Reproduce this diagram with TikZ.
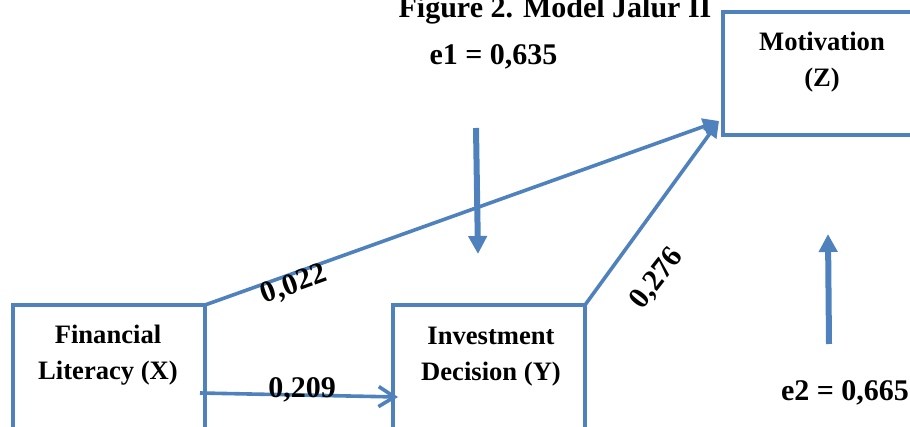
\documentclass[tikz,border=0pt]{standalone}
\usepackage{fontspec}
\setmainfont{Liberation Serif}
\usetikzlibrary{arrows.meta,calc}

\begin{document}
\begin{tikzpicture}[x=0.5pt,y=-0.5pt,
    var/.style={draw=pathblue,line width=2pt,fill=white,outer sep=0pt,inner sep=0pt,
      minimum width=96pt,minimum height=90pt,anchor=north west},
    vartext/.style={font=\fontsize{13.3}{18}\selectfont\bfseries,align=center},
    coef/.style={font=\fontsize{15}{18}\selectfont\bfseries},
    link/.style={draw=pathblue,line width=1.8pt},
    errarrow/.style={draw=pathblue,line width=3pt,-{Triangle[length=9pt,width=9pt]}}]

    \definecolor{pathblue}{HTML}{4F81BD}

    \useasboundingbox (0,0) rectangle (910,427);
    \clip (0,0) rectangle (910,427);

    \node[coef,anchor=base] (title) at (555,18) {Figure 2. Model Jalur II};

    % variables
    \node[var,minimum width=100pt,minimum height=61.5pt] (mot) at (723,12) {};
    \node[vartext] (mottext) at (822,62) {Motivation\\(Z)};
    \node[var] (fl) at (13,305) {};
    \node[vartext] (fltext) at (108,355.5) {Financial\\Literacy (X)};
    \node[var] (iv) at (393,305) {};
    \node[vartext] (ivtext) at (491,356.5) {Investment\\Decision (Y)};

    % paths
    \coordinate (mtip) at (719,121);
    \draw[link,-{Triangle[length=8pt,width=8pt]}] (fl.north east) -- (mtip);
    \draw[link,-{Triangle[length=8pt,width=8pt]}] (iv.north east) -- (mtip);
    \draw[link,-{Straight Barb[length=8pt,width=10pt]}] ($(fl.north east)+(-5,88)$) -- ($(iv.north west)+(5,92)$);

    \node[coef,rotate=20] (b1) at (294,285) {0,022};
    \node[coef,anchor=base] (b2) at (302,397) {0,209};
    \node[coef,rotate=52] (b3) at (657,279) {0,276};

    % residuals
    \node[coef,anchor=base] (e1) at (493.5,65) {e1 = 0,635};
    \node[coef,anchor=base] (e2) at (845,400) {e2 = 0,665};
    \coordinate (e1top) at (476,128);
    \coordinate (e1tip) at (478,254);
    \coordinate (e2foot) at (829,344);
    \coordinate (e2tip) at (828,234);
    \draw[errarrow] (e1top) -- (e1tip);
    \draw[errarrow] (e2foot) -- (e2tip);

\end{tikzpicture}
\end{document}
